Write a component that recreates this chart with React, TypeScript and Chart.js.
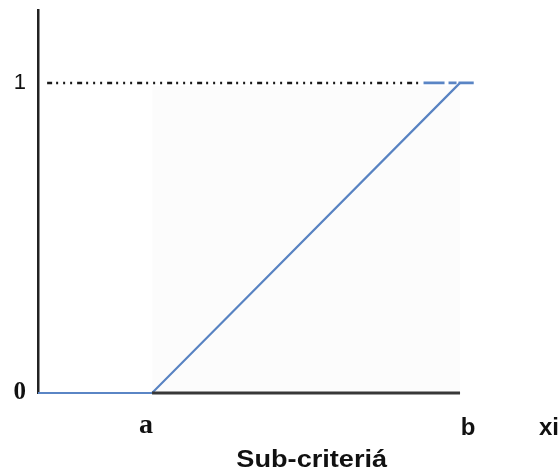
import React, { useEffect, useRef } from "react";
import { Chart, registerables } from "chart.js";

Chart.register(...registerables);

// x values in units of the distance from the origin to "a"
const xA = 1;
const xB = 3.7;
const xMax = 4.48;
const yMax = 1.235;

const xTickValues = [0.947, 3.77, 4.48];
const xTickLabels = ["a", "b", "xi"];
const yTickValues = [0, 1];
const yTickLabels = ["0", "1"];

const memberX = [0, xA, xB];
const memberY = [0, 0, 1];
const baseX = [xA, xB];
const baseY = [0, 0];
const dottedX = [0.08, 3.35];
const dottedY = [1, 1];
const blueDashX = [3.38, 3.82];
const blueDashY = [1, 1];
const shadeX = [xA, xB];
const shadeY = [0.99, 0.99];

const axisTitle = "Sub-criteriá";
const titleCenter = 2.4;

const toPts = (xs: number[], ys: number[]) => xs.map((x, i) => ({ x, y: ys[i] }));

const BLUE = "#5a85c5";
const SANS = "'Liberation Sans', Arial, Helvetica, sans-serif";
const SERIF = "'Liberation Serif', 'Times New Roman', serif";

export default function App() {
  const ref = useRef<HTMLCanvasElement>(null);
  useEffect(() => {
    document.body.style.margin = "0";
    document.body.style.overflow = "hidden";
    if (!ref.current) return;
    const titlePlugin = {
      id: "subTitle",
      afterDraw(chart: any) {
        const { ctx } = chart;
        const cx = chart.scales.x.getPixelForValue(titleCenter);
        const cy = chart.chartArea.bottom + 68;
        ctx.save();
        ctx.font = `bold 23px ${SANS}`;
        ctx.fillStyle = "#111";
        ctx.textAlign = "center";
        ctx.textBaseline = "middle";
        ctx.translate(cx, cy);
        ctx.scale(1.18, 1);
        ctx.fillText(axisTitle, 0, 0);
        ctx.restore();
      },
    };
    const chart = new Chart(ref.current, {
      type: "scatter",
      data: {
        datasets: [
          {
            data: toPts(shadeX, shadeY),
            showLine: true,
            borderWidth: 0,
            pointRadius: 0,
            fill: "origin",
            backgroundColor: "rgba(0,0,0,0.012)",
          } as any,
          {
            data: toPts(baseX, baseY),
            showLine: true,
            borderColor: "#383838",
            borderWidth: 3,
            pointRadius: 0,
            clip: false,
          } as any,
          {
            data: toPts(memberX, memberY),
            showLine: true,
            borderColor: BLUE,
            borderWidth: 2.2,
            pointRadius: 0,
            clip: false,
          } as any,
          {
            data: toPts(dottedX, dottedY),
            showLine: true,
            borderColor: "#1a1a1a",
            borderWidth: 2.5,
            borderDash: [5, 4, 2, 5, 2, 5, 2, 5],
            pointRadius: 0,
          } as any,
          {
            data: toPts(blueDashX, blueDashY),
            showLine: true,
            borderColor: BLUE,
            borderWidth: 2.8,
            borderDash: [21, 4, 8, 2],
            pointRadius: 0,
          } as any,
        ],
      },
      options: {
        animation: false,
        responsive: false,
        layout: { padding: { top: 10, right: 11, left: 0, bottom: 0 } },
        plugins: { legend: { display: false }, tooltip: { enabled: false } },
        scales: {
          x: {
            type: "linear",
            min: 0,
            max: xMax,
            grid: { display: false, drawTicks: false },
            border: { display: false },
            afterFit: (s: any) => {
              s.height = 82;
              s.paddingLeft = 0;
              s.paddingRight = 0;
            },
            afterBuildTicks: (s: any) => {
              s.ticks = xTickValues.map((v) => ({ value: v }));
            },
            ticks: {
              padding: 10,
              maxRotation: 0,
              autoSkip: false,
              color: "#111",
              callback: (v: any) => {
                const i = xTickValues.indexOf(Number(v));
                return i >= 0 ? xTickLabels[i] : "";
              },
              font: (ctx: any) =>
                ctx.index === 0
                  ? { family: SERIF, size: 28, weight: "bold", lineHeight: "45px" }
                  : { family: SANS, size: 24, weight: "bold", lineHeight: "50px" },
            } as any,
          },
          y: {
            type: "linear",
            min: 0,
            max: yMax,
            grid: { display: false, drawTicks: false },
            border: { display: true, color: "#222", width: 2.5 },
            afterFit: (s: any) => {
              s.width = 38;
              s.paddingTop = 0;
              s.paddingBottom = 0;
            },
            afterBuildTicks: (s: any) => {
              s.ticks = yTickValues.map((v) => ({ value: v }));
            },
            ticks: {
              padding: 12,
              color: "#111",
              callback: (v: any) => {
                const i = yTickValues.indexOf(Number(v));
                return i >= 0 ? yTickLabels[i] : "";
              },
              font: (ctx: any) =>
                ctx.index === 0
                  ? { family: SERIF, size: 25, weight: "bold" }
                  : { family: SANS, size: 22, weight: "normal" },
            } as any,
          },
        },
      },
      plugins: [titlePlugin],
    } as any);
    return () => chart.destroy();
  }, []);
  return (
    <div style={{ width: 560, height: 475 }}>
      <canvas ref={ref} width={560} height={475} style={{ display: "block", width: 560, height: 475 }} />
    </div>
  );
}
